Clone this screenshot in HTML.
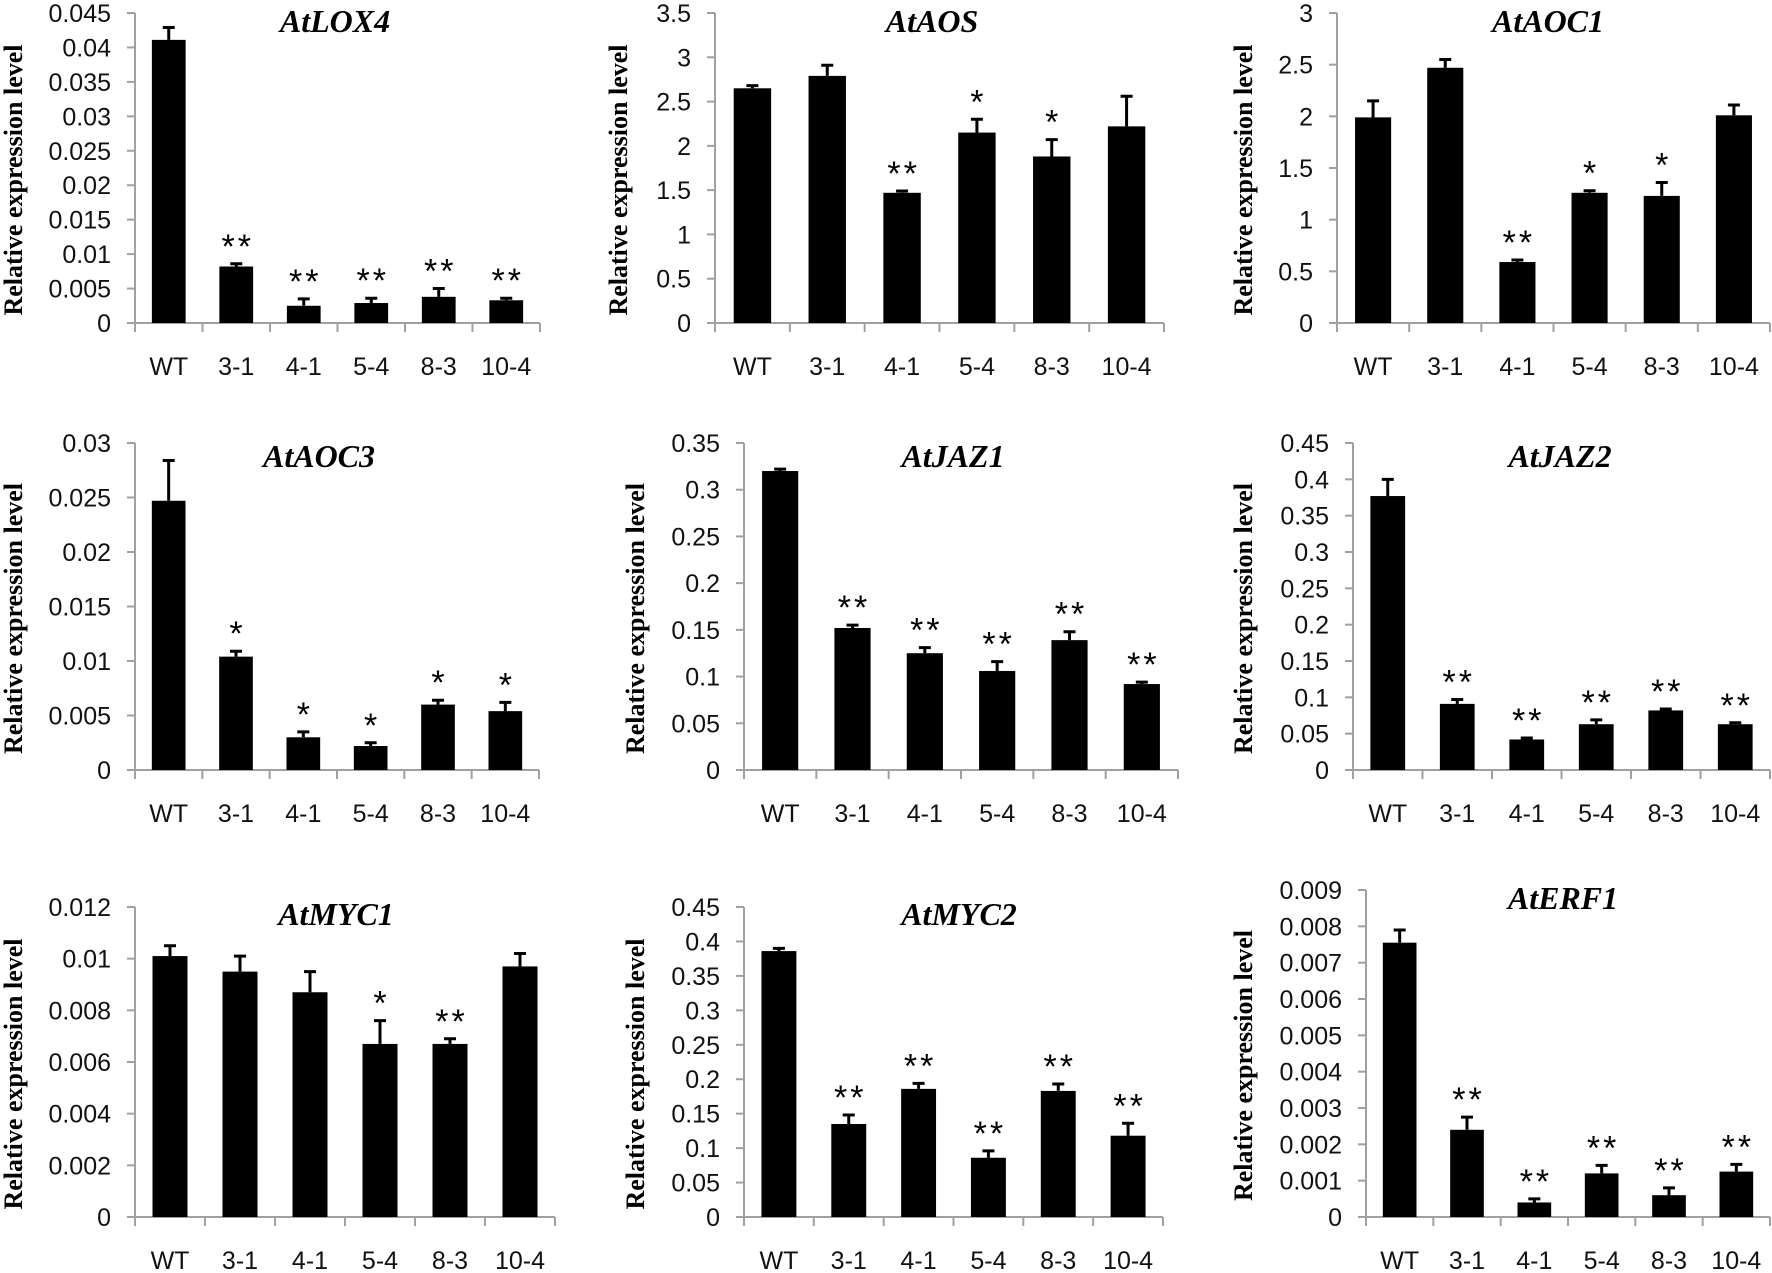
<!DOCTYPE html>
<html>
<head>
<meta charset="utf-8">
<style>
html,body{margin:0;padding:0;background:#fff;}
svg{display:block;}
.tick{font-family:"Liberation Sans",sans-serif;font-size:25px;fill:#111;}
.ytitle{font-family:"Liberation Serif",serif;font-weight:bold;font-size:26px;fill:#000;}
.ptitle{font-family:"Liberation Serif",serif;font-weight:bold;font-style:italic;font-size:32px;fill:#000;}
.sig{font-family:"Liberation Sans",sans-serif;font-size:34px;fill:#000;letter-spacing:3px;}
</style>
</head>
<body>
<svg id="fig" width="1772" height="1273" viewBox="0 0 1772 1273" xmlns="http://www.w3.org/2000/svg"></svg>
<script>
// Shared categories
const categories = ["WT","3-1","4-1","5-4","8-3","10-4"];

// Panel data (values, error-bar tops, significance marks, axis max, tick step)
const lox4Values = [0.0411,0.0082,0.0025,0.0029,0.0038,0.0033];
const lox4ErrTop = [0.0429,0.0086,0.0035,0.0036,0.0050,0.0036];
const lox4Sig = ["","**","**","**","**","**"];
const lox4Axis = [0.045,0.005];

const aosValues = [2.65,2.79,1.47,2.15,1.88,2.22];
const aosErrTop = [2.68,2.91,1.49,2.30,2.07,2.56];
const aosSig = ["","","**","*","*",""];
const aosAxis = [3.5,0.5];

const aoc1Values = [1.99,2.47,0.59,1.26,1.23,2.01];
const aoc1ErrTop = [2.15,2.55,0.61,1.28,1.36,2.11];
const aoc1Sig = ["","","**","*","*",""];
const aoc1Axis = [3,0.5];

const aoc3Values = [0.0247,0.0104,0.0030,0.0022,0.0060,0.0054];
const aoc3ErrTop = [0.0284,0.0109,0.0035,0.0025,0.0064,0.0062];
const aoc3Sig = ["","*","*","*","*","*"];
const aoc3Axis = [0.03,0.005];

const jaz1Values = [0.320,0.152,0.125,0.106,0.139,0.092];
const jaz1ErrTop = [0.322,0.155,0.131,0.116,0.148,0.094];
const jaz1Sig = ["","**","**","**","**","**"];
const jaz1Axis = [0.35,0.05];

const jaz2Values = [0.377,0.091,0.042,0.063,0.082,0.063];
const jaz2ErrTop = [0.400,0.097,0.044,0.069,0.084,0.065];
const jaz2Sig = ["","**","**","**","**","**"];
const jaz2Axis = [0.45,0.05];

const myc1Values = [0.0101,0.0095,0.0087,0.0067,0.0067,0.0097];
const myc1ErrTop = [0.0105,0.0101,0.0095,0.0076,0.0069,0.0102];
const myc1Sig = ["","","","*","**",""];
const myc1Axis = [0.012,0.002];

const myc2Values = [0.386,0.135,0.186,0.086,0.183,0.118];
const myc2ErrTop = [0.390,0.148,0.194,0.096,0.193,0.136];
const myc2Sig = ["","**","**","**","**","**"];
const myc2Axis = [0.45,0.05];

const erf1Values = [0.00755,0.0024,0.0004,0.0012,0.0006,0.00125];
const erf1ErrTop = [0.0079,0.00275,0.0005,0.00142,0.0008,0.00145];
const erf1Sig = ["","**","**","**","**","**"];
const erf1Axis = [0.009,0.001];

const panels = [
  {name:"AtLOX4",key:"lox4",v:lox4Values,e:lox4ErrTop,s:lox4Sig,a:lox4Axis,x0:135,x1:540,y0:13,y1:323,tx:335,ty:25,yt:13},
  {name:"AtAOS",key:"aos",v:aosValues,e:aosErrTop,s:aosSig,a:aosAxis,x0:715,x1:1164,y0:13,y1:323,tx:932,ty:25,yt:618},
  {name:"AtAOC1",key:"aoc1",v:aoc1Values,e:aoc1ErrTop,s:aoc1Sig,a:aoc1Axis,x0:1337,x1:1770,y0:13,y1:323,tx:1548,ty:25,yt:1243},
  {name:"AtAOC3",key:"aoc3",v:aoc3Values,e:aoc3ErrTop,s:aoc3Sig,a:aoc3Axis,x0:135,x1:539,y0:443,y1:770,tx:319,ty:460,yt:13},
  {name:"AtJAZ1",key:"jaz1",v:jaz1Values,e:jaz1ErrTop,s:jaz1Sig,a:jaz1Axis,x0:744,x1:1178,y0:443,y1:770,tx:953,ty:460,yt:635},
  {name:"AtJAZ2",key:"jaz2",v:jaz2Values,e:jaz2ErrTop,s:jaz2Sig,a:jaz2Axis,x0:1353,x1:1770,y0:443,y1:770,tx:1560,ty:460,yt:1243},
  {name:"AtMYC1",key:"myc1",v:myc1Values,e:myc1ErrTop,s:myc1Sig,a:myc1Axis,x0:135,x1:555,y0:907,y1:1217,tx:336,ty:918,yt:13},
  {name:"AtMYC2",key:"myc2",v:myc2Values,e:myc2ErrTop,s:myc2Sig,a:myc2Axis,x0:744,x1:1163,y0:907,y1:1217,tx:959,ty:918,yt:635},
  {name:"AtERF1",key:"erf1",v:erf1Values,e:erf1ErrTop,s:erf1Sig,a:erf1Axis,x0:1366,x1:1770,y0:890,y1:1217,tx:1563,ty:902,yt:1243}
];

const NS = "http://www.w3.org/2000/svg";
const fig = document.getElementById("fig");
function mk(tag, attrs, parent){
  const el = document.createElementNS(NS, tag);
  for (const k in attrs) el.setAttribute(k, attrs[k]);
  parent.appendChild(el);
  return el;
}
function fmt(v){ return String(parseFloat(v.toFixed(6))); }

panels.forEach(function(p){
  const g = mk("g", {}, fig);
  
  
  const ymax = p.a[0], step = p.a[1];
  const yScale = function(v){ return p.y1 - (v / ymax) * (p.y1 - p.y0); };
  const band = (p.x1 - p.x0) / categories.length;
  const xCenter = function(i){ return p.x0 + band * (i + 0.5); };
  const bw = band * 0.5;

  const ya = mk("line", {x1:p.x0, y1:p.y0, x2:p.x0, y2:p.y1, stroke:"#a0a0a0", "stroke-width":2}, g);
  
  
  const nT = Math.round(ymax / step);
  for (let k = 0; k <= nT; k++){
    const v = k * step, y = yScale(v);
    mk("line", {x1:p.x0 - 8, y1:y, x2:p.x0, y2:y, stroke:"#a0a0a0", "stroke-width":2}, g);
    const t = mk("text", {x:p.x0 - 24, y:y + 9, "text-anchor":"end", class:"tick"}, g);
    t.textContent = fmt(v);
    
    
  }
  const xa = mk("line", {x1:p.x0 - 8, y1:p.y1, x2:p.x1, y2:p.y1, stroke:"#a0a0a0", "stroke-width":2}, g);
  
  
  for (let i = 0; i <= categories.length; i++){
    const x = p.x0 + band * i;
    mk("line", {x1:x, y1:p.y1, x2:x, y2:p.y1 + 9, stroke:"#a0a0a0", "stroke-width":2}, g);
  }
  categories.forEach(function(c, i){
    const t = mk("text", {x:xCenter(i), y:p.y1 + 52, "text-anchor":"middle", class:"tick"}, g);
    t.textContent = c;
    
    
  });
  p.v.forEach(function(v, i){
    const cx = xCenter(i);
    const top = yScale(v);
    const r = mk("rect", {x:cx - bw/2, y:top, width:bw, height:p.y1 - top, fill:"#000"}, g);
    
    
    const et = yScale(p.e[i]);
    const eb = mk("path", {d:"M"+cx+" "+top+" V"+et+" M"+(cx-6)+" "+et+" H"+(cx+6), stroke:"#000", "stroke-width":3, fill:"none"}, g);
    
    
    if (p.s[i]){
      const s = mk("text", {x:cx + 1.5, y:et - 6, "text-anchor":"middle", class:"sig"}, g);
      s.textContent = p.s[i];
      
      
    }
  });
  const tt = mk("text", {x:p.tx, y:p.ty + 7, "text-anchor":"middle", class:"ptitle"}, g);
  tt.textContent = p.name;
  
  
  const cy = (p.y0 + p.y1) / 2 + 12;
  const yt = mk("text", {x:0, y:0, "text-anchor":"middle", class:"ytitle", transform:"translate("+(p.yt + 9)+","+cy+") rotate(-90)"}, g);
  yt.textContent = "Relative expression level";
  
  
});
</script>
</body>
</html>
